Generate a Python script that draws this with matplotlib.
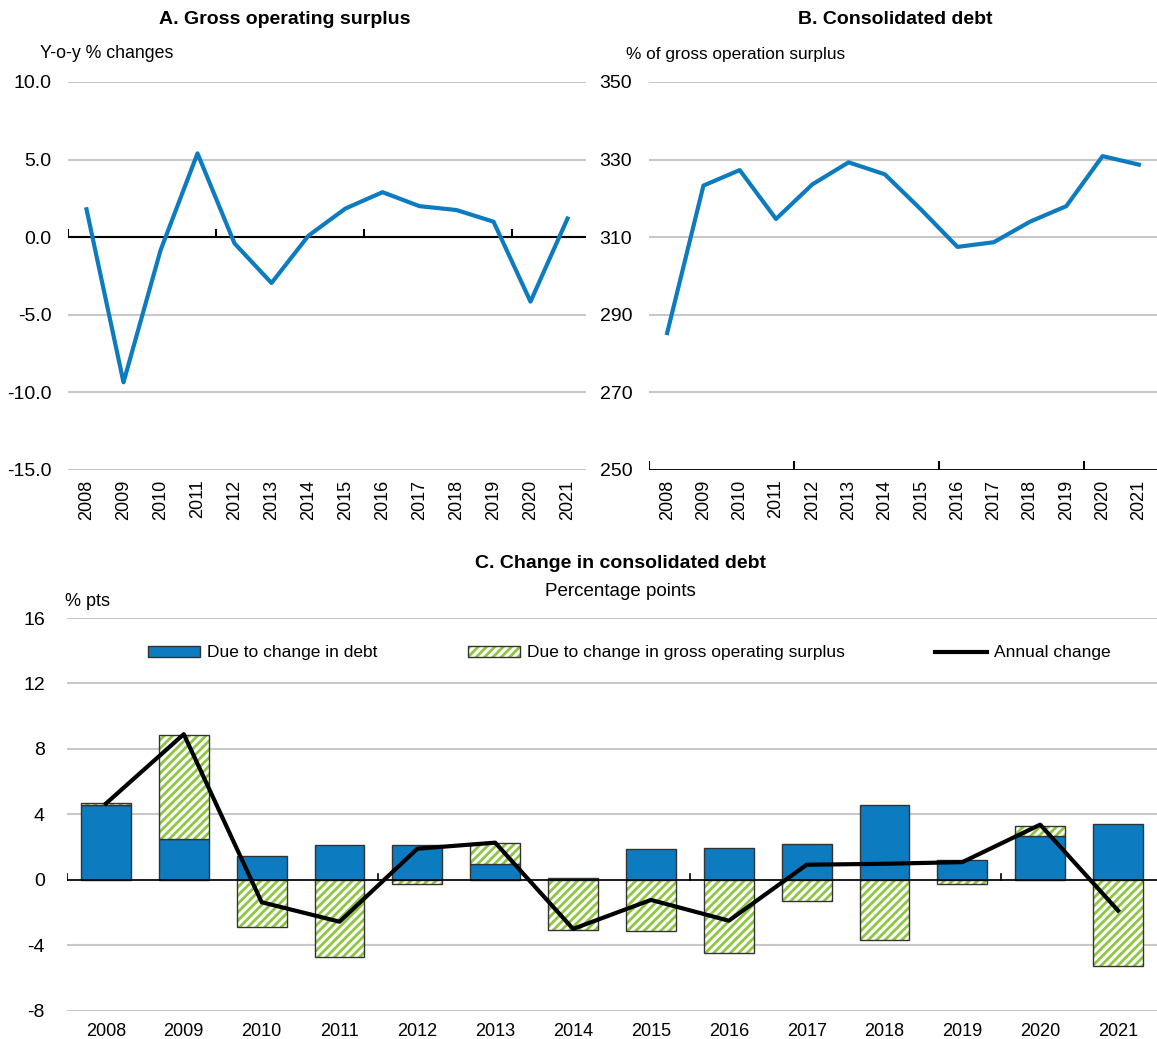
import matplotlib
matplotlib.use("Agg")
import matplotlib.pyplot as plt
from matplotlib.patches import Patch
from matplotlib.lines import Line2D
import numpy as np

plt.rcParams['font.family'] = ['Liberation Sans', 'DejaVu Sans']
plt.rcParams['font.size'] = 14
plt.rcParams['hatch.linewidth'] = 2.0

# data
years = ['2008', '2009', '2010', '2011', '2012', '2013', '2014',
         '2015', '2016', '2017', '2018', '2019', '2020', '2021']
gos_growth = [1.8, -9.35, -0.85, 5.4, -0.4, -2.95, 0.1,
              1.85, 2.9, 2.0, 1.75, 1.0, -4.15, 1.2]
debt_ratio = [285.3, 323.3, 327.3, 314.7, 323.6, 329.3, 326.2,
              317.1, 307.5, 308.7, 314.0, 318.0, 330.9, 328.7]
due_debt = [4.56, 2.47, 1.45, 2.15, 2.1, 0.98, 0.08,
            1.9, 1.96, 2.17, 4.56, 1.23, 2.68, 3.39]
due_gos = [0.15, 6.4, -2.87, -4.7, -0.25, 1.29, -3.07,
           -3.15, -4.48, -1.31, -3.66, -0.25, 0.63, -5.26]
annual_change = [4.66, 8.9, -1.37, -2.56, 1.9, 2.27, -3.0,
                 -1.23, -2.5, 0.92, 0.98, 1.08, 3.37, -1.88]

BLUE = '#0C7BC0'
GREEN = '#8DC63F'
GRID = '#C8C8C8'
EDGE = '#333333'

W, H = 1157, 1039
fig = plt.figure(figsize=(W / 100, H / 100), dpi=100)

x = np.arange(len(years))
bounds = [-0.5, 3.5, 7.5, 11.5]


def style_axes(ax, ylim, yticks, ylabels, rotate):
    ax.set_xlim(-0.5, len(years) - 0.5)
    ax.set_ylim(*ylim)
    ax.set_yticks(yticks, ylabels)
    for s in ax.spines.values():
        s.set_visible(False)
    ax.grid(axis='y', color=GRID, linewidth=1.5, zorder=0)
    ax.set_axisbelow(True)
    ax.tick_params(axis='y', length=0, pad=12)
    if rotate:
        ax.set_xticks(x, years, rotation=90)
        ax.tick_params(axis='x', length=0, pad=7, labelsize=13)
    else:
        ax.set_xticks(x, years)
        ax.tick_params(axis='x', length=0, pad=9, labelsize=13)


# Panel A
axA = fig.add_axes([68 / W, 1 - 470 / H, 518 / W, 388 / H])
style_axes(axA, (-15, 10), [-15, -10, -5, 0, 5, 10],
           ['-15.0', '-10.0', '-5.0', '0.0', '5.0', '10.0'], True)
axA.axhline(0, color='black', linewidth=1.5, zorder=2)
for b in bounds:
    axA.plot([b, b], [0, 0.45], color='black', linewidth=1.5, zorder=2)
axA.plot(x, gos_growth, color=BLUE, linewidth=3, zorder=3)
fig.text(285 / W, 1 - 20 / H, 'A. Gross operating surplus', ha='center',
         va='center', fontweight='bold', fontsize=14)
fig.text(40 / W, 1 - 54 / H, 'Y-o-y % changes', ha='left', va='center', fontsize=12.8)

# Panel B
axB = fig.add_axes([649 / W, 1 - 470 / H, 508 / W, 388 / H])
style_axes(axB, (250, 350), [250, 270, 290, 310, 330, 350],
           ['250', '270', '290', '310', '330', '350'], True)
axB.axhline(250, color='black', linewidth=2, zorder=2)
for b in bounds:
    axB.plot([b, b], [250, 252], color='black', linewidth=1.5, zorder=2)
axB.plot(x, debt_ratio, color=BLUE, linewidth=3, zorder=3)
fig.text(895 / W, 1 - 20 / H, 'B. Consolidated debt', ha='center',
         va='center', fontweight='bold', fontsize=14)
fig.text(626 / W, 1 - 54 / H, '% of gross operation surplus', ha='left',
         va='center', fontsize=12.4)

# Panel C
axC = fig.add_axes([67 / W, 1 - 1010.7 / H, 1090 / W, 392.7 / H])
style_axes(axC, (-8, 16), [-8, -4, 0, 4, 8, 12, 16],
           ['-8', '-4', '0', '4', '8', '12', '16'], False)
axC.tick_params(axis='y', pad=16)

debt_arr = np.array(due_debt)
gos_arr = np.array(due_gos)
gos_bottom = np.where(gos_arr > 0, debt_arr, 0)
bw = 0.64

axC.bar(x, due_debt, width=bw, color=BLUE, edgecolor=EDGE, linewidth=1, zorder=2)
axC.bar(x, due_gos, width=bw, bottom=gos_bottom, color='white', edgecolor=GREEN,
        hatch='////', linewidth=0, zorder=2)
axC.bar(x, due_gos, width=bw, bottom=gos_bottom, fill=False, edgecolor=EDGE,
        linewidth=1, zorder=2)
axC.axhline(0, color='black', linewidth=1.2, zorder=3)
for b in bounds:
    axC.plot([b, b], [0, 0.35], color='black', linewidth=1.2, zorder=3)
axC.plot(x, annual_change, color='black', linewidth=3, zorder=4)

handles = [Patch(facecolor=BLUE, edgecolor=EDGE, linewidth=1),
           (Patch(facecolor='white', edgecolor=GREEN, hatch='////', linewidth=0),
            Patch(fill=False, edgecolor=EDGE, linewidth=1)),
           Line2D([0], [0], color='black', linewidth=3)]
labels = ['Due to change in debt', 'Due to change in gross operating surplus',
          'Annual change']
axC.legend(handles, labels, ncol=3, loc='center', bbox_to_anchor=(0.516, 0.911),
           frameon=False, handlelength=3.0, handleheight=0.6, handletextpad=0.4,
           columnspacing=5.2, fontsize=12.5)

fig.text(620 / W, 1 - 563 / H, 'C. Change in consolidated debt', ha='center',
         va='center', fontweight='bold', fontsize=14)
fig.text(620 / W, 1 - 591 / H, 'Percentage points', ha='center', va='center',
         fontsize=13.5)
fig.text(65 / W, 1 - 602 / H, '% pts', ha='left', va='center', fontsize=13)

fig.savefig('out.png', dpi=100)
